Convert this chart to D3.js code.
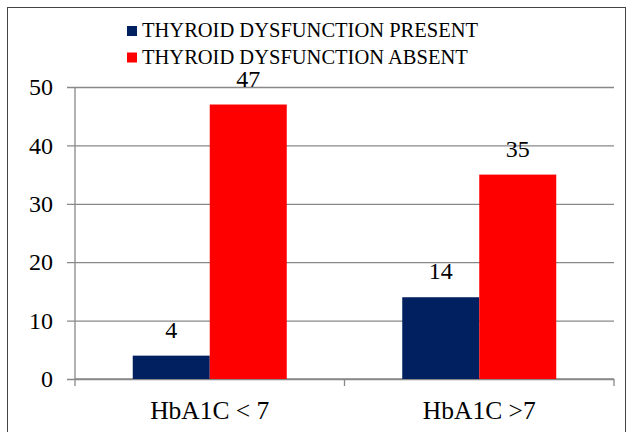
<!DOCTYPE html>
<html>
<head>
<meta charset="utf-8">
<script src="https://cdn.jsdelivr.net/npm/d3@7"></script>
<style>
  body { margin: 0; background: #fff; }
  svg text { font-family: "Liberation Serif", "DejaVu Serif", serif !important; fill: #000; }
</style>
</head>
<body>
<svg width="627" height="432"></svg>
<script>
const categories = ['HbA1C < 7', 'HbA1C >7'];
const seriesNames = ['THYROID DYSFUNCTION PRESENT', 'THYROID DYSFUNCTION ABSENT'];
const presentValues = [4, 14];
const absentValues = [47, 35];
const yTicks = [0, 10, 20, 30, 40, 50];
const colors = ['#002060', '#FF0000'];

const renderChart = () => {
  const svg = d3.select('svg');
  const margin = { top: 87, bottom: 53, right: 13, left: 75 };
  const innerWidth = 627 - margin.left - margin.right;
  const innerHeight = 432 - margin.top - margin.bottom;

  // outer frame
  svg.append('rect')
    .attr('x', 7.5).attr('y', 7.5)
    .attr('width', 618).attr('height', 430)
    .attr('fill', 'none')
    .attr('stroke', '#444')
    .attr('stroke-width', 1);

  const g = svg.append('g')
    .attr('transform', `translate(${margin.left}, ${margin.top})`);

  const xScale = d3.scaleBand()
    .domain(categories)
    .range([0, innerWidth]);
  const xInner = d3.scaleBand()
    .domain(seriesNames)
    .range([0, xScale.bandwidth()])
    .paddingOuter(0.75);
  const yScale = d3.scaleLinear()
    .domain([0, 50])
    .range([innerHeight, 0]);

  // gridlines + y axis
  const yAxis = d3.axisLeft(yScale)
    .tickValues(yTicks)
    .tickSize(-innerWidth - 8)
    .tickPadding(14)
    .tickFormat(d3.format('d'));
  const yAxisGroup = g.append('g')
    .attr('transform', 'translate(-8,0)')
    .call(yAxis)
    .attr('font-family', null)
    .attr('font-size', null);
  yAxisGroup.select('.domain').remove();
  yAxisGroup.selectAll('.tick line')
    .attr('stroke', '#888')
    .attr('stroke-width', 1.3)
    .attr('x1', 0);
  yAxisGroup.selectAll('.tick text')
    .style('font-size', '24px');

  g.append('line')
    .attr('x1', 0).attr('x2', 0)
    .attr('y1', 0).attr('y2', innerHeight)
    .attr('stroke', '#888').attr('stroke-width', 1.3);

  // x axis
  const xAxisGroup = g.append('g')
    .attr('transform', `translate(0, ${innerHeight})`);
  xAxisGroup.append('line')
    .attr('x1', 0).attr('x2', innerWidth)
    .attr('stroke', '#888').attr('stroke-width', 1.3);
  const xTickPositions = [0, ...categories.map(c => xScale(c) + xScale.bandwidth())];
  xAxisGroup.selectAll('line.xtick')
    .data(xTickPositions)
    .enter().append('line')
      .attr('class', 'xtick')
      .attr('x1', d => d).attr('x2', d => d)
      .attr('y1', 0).attr('y2', 7)
      .attr('stroke', '#888').attr('stroke-width', 1.3);
  xAxisGroup.selectAll('text.xlabel')
    .data(categories)
    .enter().append('text')
      .attr('class', 'xlabel')
      .attr('x', d => xScale(d) + xScale.bandwidth() / 2)
      .attr('y', 40)
      .attr('text-anchor', 'middle')
      .style('font-size', '25.5px')
      .text(d => d);

  // bars
  const rows = categories.map((c, i) => ({
    category: c,
    values: [presentValues[i], absentValues[i]]
  }));
  const groups = g.selectAll('g.group')
    .data(rows)
    .enter().append('g')
      .attr('class', 'group')
      .attr('transform', d => `translate(${xScale(d.category)}, 0)`);
  groups.selectAll('rect')
    .data(d => d.values.map((v, j) => ({ series: seriesNames[j], value: v, idx: j })))
    .enter().append('rect')
      .attr('x', d => xInner(d.series))
      .attr('y', d => yScale(d.value))
      .attr('width', xInner.bandwidth())
      .attr('height', d => innerHeight - yScale(d.value))
      .attr('fill', d => colors[d.idx]);
  groups.selectAll('text.value')
    .data(d => d.values.map((v, j) => ({ series: seriesNames[j], value: v })))
    .enter().append('text')
      .attr('class', 'value')
      .attr('x', d => xInner(d.series) + xInner.bandwidth() / 2)
      .attr('y', d => yScale(d.value) - 18)
      .attr('text-anchor', 'middle')
      .style('font-size', '24px')
      .text(d => d.value);

  // legend
  const legend = svg.append('g')
    .attr('transform', 'translate(127, 26)');
  const legendItems = legend.selectAll('g')
    .data(seriesNames)
    .enter().append('g')
      .attr('transform', (d, i) => `translate(0, ${i * 26.5})`);
  legendItems.append('rect')
    .attr('width', 10).attr('height', 10)
    .attr('fill', (d, i) => colors[i]);
  legendItems.append('text')
    .attr('x', 15).attr('y', 11)
    .style('font-size', '20.5px')
    .text(d => d);
};

renderChart();
</script>
</body>
</html>
